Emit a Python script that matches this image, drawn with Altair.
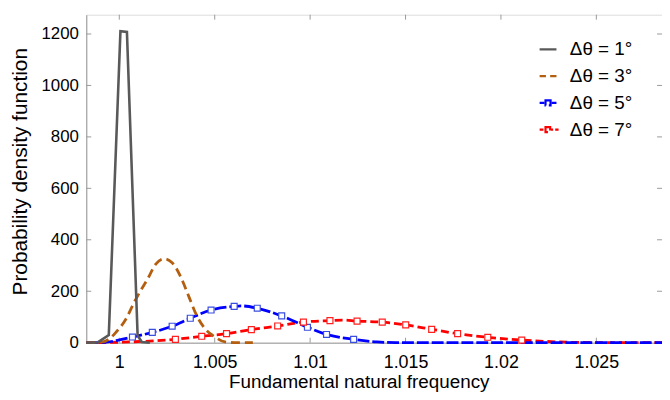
import altair as alt
import pandas as pd

SERIES = ["Δθ = 1°", "Δθ = 3°", "Δθ = 5°", "Δθ = 7°"]
COLORS = ["#595959", "#b45f0f", "#0000ff", "#ff0000"]
MARK_COLORS = ["#595959", "#b45f0f", "#3a4fe0", "#ff2020"]
DASHES = [[1, 0], [9, 5], [12, 3], [8, 4]]

X_TICKS = [1.0, 1.005, 1.01, 1.015, 1.02, 1.025]
Y_TICKS = [0, 200, 400, 600, 800, 1000, 1200]
X_DOMAIN = [0.99827, 1.02844]
Y_DOMAIN = [0, 1275]

GRAY_X = [0.99827, 0.99887, 0.99945, 1.00006, 1.00040, 1.00096, 1.00118, 1.00160]
GRAY_Y = [0, 1, 30, 1211, 1208, 28, 3, 0]

BROWN_X = [0.99827, 0.99870, 0.99913, 0.99950, 0.99983, 1.00035, 1.00078, 1.00110,
           1.00147, 1.00190, 1.00234, 1.00277, 1.00320, 1.00363, 1.00406, 1.00450,
           1.00502, 1.00554, 1.00618, 1.00700]
BROWN_Y = [0, 0.5, 3, 16, 41, 92, 157, 200, 246, 304, 326, 311, 259, 182, 105, 54,
           22, 3, 0, 0]

BLUE_X = [0.99827, 0.99920, 0.99990, 1.00069, 1.00173, 1.00277, 1.00372, 1.00481,
          1.00602, 1.00640, 1.00723, 1.00851, 1.00986, 1.01086, 1.01228, 1.01350,
          1.01450, 1.02844]
BLUE_Y = [0, 1, 9, 22, 40, 64, 95, 127, 141, 143, 134, 104, 60, 32, 13, 3, 0.5, 0]

RED_X = [0.99827, 0.99920, 1.00050, 1.00180, 1.00294, 1.00432, 1.00562, 1.00692,
         1.00830, 1.00965, 1.01104, 1.01170, 1.01246, 1.01378, 1.01501, 1.01637,
         1.01773, 1.01931, 1.02109, 1.02300, 1.02500, 1.02844]
RED_Y = [0, 0.5, 3, 7, 13, 25, 35, 51, 65, 80, 86, 88, 84, 80, 69, 52, 35, 21, 10,
         3, 0.5, 0]

BLUE_MARK_X = [1.00069, 1.00173, 1.00277, 1.00372, 1.00481, 1.00602, 1.00723,
               1.00851, 1.00986, 1.01086, 1.01228]
BLUE_MARK_Y = [22, 40, 64, 95, 127, 141, 134, 104, 60, 32, 13]

RED_MARK_X = [1.00294, 1.00432, 1.00562, 1.00692, 1.00830, 1.00965, 1.01104,
              1.01246, 1.01378, 1.01501, 1.01637, 1.01773, 1.01931, 1.02109]
RED_MARK_Y = [13, 25, 35, 51, 65, 80, 86, 84, 80, 69, 52, 35, 21, 10]

LEGEND_SHAPES = [
    "M-1,0H1",
    "M-1,0H-0.25M0.25,0H1",
    "M-1,0H-0.45M0.45,0H1M-0.3,-0.3H0.3V0.3H-0.3Z",
    "M-1,0H-0.55M0.35,0H0.6M0.85,0H1.25M-0.3,-0.3H0.25V0.3H-0.3Z",
]

FONT = "Liberation Sans"
FRAME = "#9a9a9a"
W, H = 581, 331


def frame(name, xs, ys):
    return pd.DataFrame({"x": xs, "y": ys, "series": name, "style": name})


smooth_df = pd.concat([
    frame(SERIES[3], RED_X, RED_Y),
    frame(SERIES[2], BLUE_X, BLUE_Y),
    frame(SERIES[1], BROWN_X, BROWN_Y),
])
gray_df = frame(SERIES[0], GRAY_X, GRAY_Y)
marks_df = pd.concat([
    frame(SERIES[2], BLUE_MARK_X, BLUE_MARK_Y),
    frame(SERIES[3], RED_MARK_X, RED_MARK_Y),
])
legend_df = pd.DataFrame({"series": SERIES})
xt_df = pd.DataFrame({"x": X_TICKS})
yt_df = pd.DataFrame({"y": Y_TICKS})

xscale = alt.Scale(domain=X_DOMAIN, nice=False, zero=False)
yscale = alt.Scale(domain=Y_DOMAIN, nice=False)
cscale = alt.Scale(domain=SERIES, range=COLORS)
dscale = alt.Scale(domain=SERIES, range=DASHES)
sscale = alt.Scale(domain=SERIES, range=LEGEND_SHAPES)

legend = alt.Legend(
    title=None, orient="none", legendX=456, legendY=25, padding=0,
    symbolSize=289, symbolStrokeWidth=2.2, symbolOpacity=1,
    symbolFillColor="transparent",
    labelFont=FONT, labelFontSize=19, labelColor="black", labelOffset=12,
    rowPadding=7,
)

xaxis = alt.Axis(
    values=X_TICKS, format="~g", ticks=False, tickSize=0, labelPadding=11,
    labelFontSize=18, labelFont=FONT, labelColor="black", labelFlush=False,
    labelOverlap=False, domainColor=FRAME, grid=False,
    title="Fundamental natural frequency", titleFont=FONT, titleFontSize=19,
    titleFontWeight="normal", titleColor="black", titleX=275, titleY=45,
    titleBaseline="alphabetic", titleAlign="center",
)
yaxis = alt.Axis(
    values=Y_TICKS, format="d", ticks=False, tickSize=0, labelPadding=8,
    labelFontSize=17, labelFont=FONT, labelColor="black", domainColor=FRAME,
    grid=False, title="Probability density function", titleFont=FONT,
    titleFontSize=21, titleFontWeight="normal", titleColor="black",
    titleAngle=270, titleX=-60, titleY=158, titleAlign="center",
    titleBaseline="alphabetic",
)

smooth = alt.Chart(smooth_df).mark_line(interpolate="monotone", strokeWidth=2.8).encode(
    x=alt.X("x:Q", scale=xscale, axis=xaxis),
    y=alt.Y("y:Q", scale=yscale, axis=yaxis),
    color=alt.Color("series:N", scale=cscale, legend=legend),
    strokeDash=alt.StrokeDash("style:N", scale=dscale, legend=None),
)

gray = alt.Chart(gray_df).mark_line(strokeWidth=2.6).encode(
    x=alt.X("x:Q", scale=xscale, axis=xaxis),
    y=alt.Y("y:Q", scale=yscale, axis=yaxis),
    color=alt.Color("series:N", scale=cscale, legend=legend),
)

points = alt.Chart(marks_df).mark_point(
    shape="square", size=36, strokeWidth=1.2, fill="white", fillOpacity=1, opacity=1
).encode(
    x=alt.X("x:Q", scale=xscale),
    y=alt.Y("y:Q", scale=yscale),
    stroke=alt.Stroke("style:N", scale=alt.Scale(domain=SERIES, range=MARK_COLORS), legend=None),
)

# Legend-only layer: its own marks have zero size, the legend carries the symbols.
legend_layer = alt.Chart(legend_df).mark_point(size=0, filled=False).encode(
    color=alt.Color("series:N", scale=cscale, legend=legend),
    shape=alt.Shape("series:N", scale=sscale, legend=legend),
)

xt_bottom = alt.Chart(xt_df).mark_rule(color=FRAME).encode(
    x=alt.X("x:Q", scale=xscale), y=alt.value(H), y2=alt.value(H - 5))
xt_top = alt.Chart(xt_df).mark_rule(color=FRAME).encode(
    x=alt.X("x:Q", scale=xscale), y=alt.value(0), y2=alt.value(5))
yt_left = alt.Chart(yt_df).mark_rule(color=FRAME).encode(
    y=alt.Y("y:Q", scale=yscale), x=alt.value(0), x2=alt.value(5))
yt_right = alt.Chart(yt_df).mark_rule(color=FRAME).encode(
    y=alt.Y("y:Q", scale=yscale), x=alt.value(W - 5), x2=alt.value(W))

chart = alt.layer(
    xt_bottom, xt_top, yt_left, yt_right, smooth, gray, points, legend_layer
).properties(
    width=W, height=H,
    autosize=alt.AutoSizeParams(type="none"),
    padding={"left": 79, "top": 5, "right": 0, "bottom": 48},
).configure_view(stroke=FRAME, strokeWidth=1).configure(background="white")

chart.save("out.html", embed_options={"renderer": "svg", "actions": False})
